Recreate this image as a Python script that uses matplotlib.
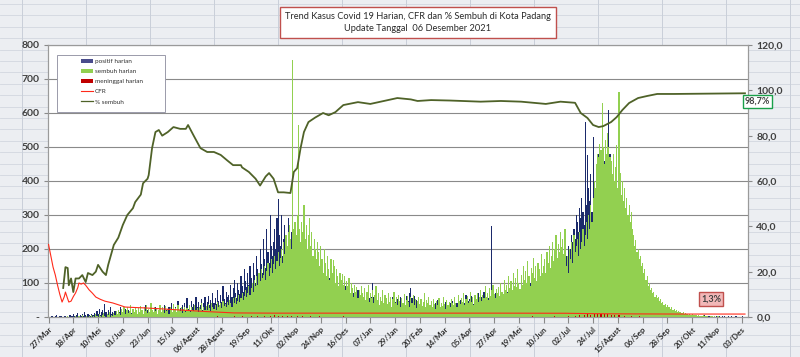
import matplotlib
matplotlib.use('Agg')
import matplotlib.pyplot as plt
from matplotlib.patches import Patch, Rectangle
from matplotlib.lines import Line2D
import numpy as np

plt.rcParams['font.family'] = ['Lato', 'DejaVu Sans']

# ---------------- data (daily, starting 27 Mar 2020) ----------------
positif = [
    2, 0, 1, 3, 0, 0, 2, 5, 1, 0, 3, 2, 0, 1, 4, 2, 0, 3, 1, 6,
    4, 2, 8, 3, 0, 5, 12, 3, 6, 2, 9, 4, 14, 6, 3, 8, 5, 2, 10, 7,
    6, 12, 4, 18, 9, 25, 7, 14, 22, 10, 38, 16, 8, 20, 12, 28, 9, 15, 6, 18,
    12, 8, 22, 14, 30, 10, 6, 17, 25, 9, 14, 20, 7, 32, 11, 16, 8, 24, 13, 10,
    18, 7, 26, 12, 9, 15, 34, 8, 20, 11, 6, 14, 22, 9, 17, 30, 12, 8, 19, 10,
    15, 24, 9, 36, 13, 20, 11, 28, 16, 42, 14, 22, 18, 30, 12, 46, 20, 26, 15, 34,
    22, 40, 18, 55, 25, 32, 20, 48, 28, 38, 24, 60, 30, 44, 26, 35, 52, 22, 40, 58,
    30, 45, 62, 35, 50, 28, 70, 42, 55, 38, 80, 48, 36, 65, 44, 90, 52, 40, 75, 58,
    66, 48, 95, 60, 85, 110, 72, 55, 100, 80, 68, 120, 90, 75, 140, 105, 88, 130, 95, 150,
    115, 90, 160, 125, 100, 180, 140, 110, 200, 155, 130, 230, 170, 145, 260, 190, 160, 300, 210, 180,
    220, 260, 200, 290, 347, 240, 210, 300, 180, 230, 270, 160, 210, 290, 140, 190, 250, 130, 170, 210,
    150, 190, 120, 170, 140, 110, 160, 130, 100, 150, 120, 90, 140, 110, 130, 95, 120, 85, 115, 100,
    90, 130, 80, 110, 95, 75, 120, 85, 100, 70, 115, 90, 103, 105, 80, 95, 60, 88, 72, 100,
    70, 55, 85, 62, 90, 50, 75, 68, 45, 80, 58, 72, 40, 65, 55, 78, 48, 60, 52, 70,
    45, 62, 50, 38, 70, 55, 42, 60, 100, 58, 48, 66, 40, 52, 30, 55, 44, 62, 36, 50,
    42, 30, 55, 38, 48, 26, 60, 35, 44, 28, 52, 40, 33, 58, 45, 30, 50, 36, 62, 40,
    48, 70, 85, 55, 40, 62, 35, 50, 45, 60, 38, 52, 30, 45, 55, 28, 42, 35, 50, 32,
    38, 28, 45, 32, 40, 25, 50, 35, 30, 42, 28, 38, 22, 45, 30, 36, 26, 40, 32, 48,
    35, 55, 30, 42, 60, 38, 50, 45, 32, 58, 40, 65, 35, 48, 52, 30, 62, 44, 38, 55,
    48, 40, 70, 52, 45, 60, 38, 75, 50, 42, 65, 55, 80, 48, 268, 60, 52, 70, 45, 62,
    55, 48, 72, 60, 42, 68, 50, 58, 75, 45, 62, 52, 80, 48, 66, 55, 70, 44, 60, 78,
    65, 52, 88, 70, 58, 95, 62, 75, 100, 68, 85, 72, 110, 60, 90, 78, 120, 85, 70, 105,
    95, 80, 130, 110, 90, 140, 105, 125, 150, 115, 100, 160, 135, 120, 175, 145, 130, 190, 160, 140,
    180, 150, 210, 170, 200, 240, 220, 260, 230, 300, 280, 250, 320, 290, 350, 310, 270, 575, 330, 476,
    380, 340, 420, 310, 530, 400, 360, 450, 390, 480, 430, 370, 500, 410, 460, 520, 440, 390, 609, 480,
    420, 360, 450, 330, 390, 300, 350, 280, 320, 250, 300, 230, 270, 210, 240, 190, 220, 170, 200, 150,
    180, 140, 160, 120, 150, 110, 130, 95, 120, 85, 110, 80, 95, 70, 88, 60, 75, 55, 68, 50,
    60, 45, 52, 40, 48, 35, 42, 30, 38, 26, 34, 22, 30, 20, 26, 18, 22, 15, 20, 12,
    16, 10, 14, 8, 12, 7, 10, 6, 9, 5, 8, 4, 7, 3, 6, 4, 5, 3, 4, 2,
    4, 3, 2, 5, 1, 3, 2, 4, 1, 2, 3, 1, 2, 0, 3, 1, 2, 1, 0, 2,
    1, 2, 0, 1, 3, 0, 1, 2, 0, 1, 0, 2, 1, 0, 1, 1, 0, 2, 1, 0,
]

sembuh = [
    0, 0, 0, 0, 0, 0, 0, 0, 0, 0, 0, 0, 0, 1, 0, 0, 0, 2, 0, 0,
    0, 1, 0, 0, 3, 0, 0, 2, 0, 0, 5, 0, 1, 0, 4, 0, 2, 0, 6, 0,
    3, 0, 8, 2, 0, 10, 4, 0, 6, 12, 3, 0, 9, 5, 14, 0, 7, 3, 11, 6,
    18, 8, 22, 12, 5, 25, 15, 30, 10, 20, 28, 12, 18, 35, 8, 24, 14, 30, 20, 10,
    26, 15, 32, 20, 10, 28, 18, 35, 12, 24, 16, 40, 22, 14, 30, 18, 25, 10, 20, 36,
    15, 28, 20, 12, 32, 18, 24, 10, 30, 22, 16, 38, 20, 26, 14, 34, 22, 18, 28, 12,
    24, 30, 16, 26, 20, 36, 14, 28, 22, 18, 34, 20, 26, 16, 30, 24, 40, 18, 28, 22,
    32, 20, 38, 26, 18, 42, 30, 24, 36, 22, 45, 28, 34, 40, 26, 48, 32, 38, 30, 44,
    36, 50, 40, 30, 55, 42, 60, 38, 48, 65, 45, 55, 70, 50, 62, 80, 58, 72, 90, 66,
    85, 100, 75, 110, 90, 120, 95, 130, 105, 140, 115, 125, 150, 110, 135, 160, 120, 145, 170, 130,
    155, 180, 140, 165, 190, 150, 175, 200, 160, 220, 185, 240, 210, 250, 270, 230, 200, 756, 260, 280,
    240, 300, 565, 260, 220, 280, 250, 330, 230, 270, 200, 240, 290, 210, 250, 180, 230, 200, 170, 220,
    190, 150, 210, 170, 130, 200, 160, 120, 180, 140, 110, 170, 130, 168, 150, 100, 140, 120, 90, 130,
    110, 126, 95, 120, 80, 105, 90, 115, 70, 100, 85, 60, 95, 75, 88, 55, 80, 65, 92, 70,
    60, 85, 50, 75, 95, 45, 70, 55, 80, 40, 65, 90, 50, 72, 35, 60, 48, 78, 42, 66,
    55, 38, 70, 45, 60, 30, 52, 75, 40, 58, 34, 64, 46, 28, 56, 42, 68, 36, 50, 62,
    44, 30, 58, 40, 66, 35, 52, 26, 48, 60, 38, 54, 32, 45, 70, 28, 50, 40, 58, 35,
    46, 30, 52, 38, 25, 48, 35, 55, 28, 42, 32, 60, 38, 24, 50, 34, 44, 28, 52, 40,
    36, 58, 42, 30, 66, 48, 38, 55, 44, 70, 35, 52, 62, 40, 48, 75, 45, 58, 36, 64,
    52, 70, 44, 60, 80, 48, 66, 55, 90, 58, 72, 50, 85, 62, 78, 95, 68, 55, 82, 70,
    88, 62, 100, 75, 68, 110, 80, 95, 70, 120, 85, 105, 78, 130, 92, 115, 88, 140, 100, 82,
    125, 95, 150, 110, 135, 100, 165, 120, 90, 145, 130, 175, 115, 150, 105, 160, 140, 120, 185, 130,
    150, 170, 130, 190, 160, 210, 145, 180, 220, 165, 200, 240, 175, 215, 190, 250, 205, 230, 185, 260,
    150, 180, 130, 200, 170, 220, 160, 240, 190, 210, 230, 180, 250, 200, 220, 260, 210, 240, 280, 230,
    300, 260, 330, 280, 350, 400, 380, 450, 480, 470, 510, 490, 630, 500, 450, 520, 480, 540, 500, 470,
    460, 420, 480, 400, 440, 506, 380, 662, 423, 360, 400, 340, 380, 320, 350, 300, 330, 280, 310, 260,
    240, 210, 226, 190, 200, 170, 180, 150, 160, 130, 140, 110, 120, 90, 100, 80, 85, 70, 75, 60,
    65, 55, 60, 48, 52, 40, 45, 35, 38, 30, 34, 28, 30, 24, 28, 22, 25, 18, 20, 15,
    18, 14, 16, 12, 14, 10, 12, 8, 10, 7, 9, 6, 8, 5, 7, 5, 6, 4, 5, 3,
    4, 3, 5, 2, 4, 2, 3, 1, 3, 2, 2, 1, 2, 1, 1, 2, 1, 0, 1, 1,
    1, 0, 1, 1, 0, 1, 0, 0, 1, 0, 0, 1, 0, 0, 0, 1, 0, 0, 0, 0,
]

death_days = [0, 6, 12, 18, 27, 33, 50, 75, 110, 135,
              150, 165, 172, 180, 186, 192, 197, 201, 204, 208,
              212, 216, 221, 226, 233, 241, 250, 262, 275, 290,
              320, 360, 400, 430, 450, 462, 468, 472, 476, 479,
              482, 485, 488, 491, 494, 497, 500, 503, 507, 512,
              518, 525, 535]
death_counts = [1, 1, 1, 1, 1, 1, 1, 1, 1, 1,
                2, 2, 3, 2, 3, 4, 3, 5, 4, 3,
                4, 3, 2, 3, 2, 2, 1, 2, 1, 1,
                1, 1, 1, 2, 2, 3, 4, 5, 6, 8,
                7, 9, 8, 10, 9, 8, 7, 6, 5, 4,
                3, 2, 1]

cfr_days = [0, 2, 4, 6, 8, 10, 12, 14, 15, 17,
            18, 20, 22, 24, 26, 27, 29, 31, 33, 36,
            39, 42, 46, 50, 57, 62, 68, 76, 86, 100,
            120, 140, 165, 200, 250, 300, 350, 400, 460, 480,
            500, 530, 560, 619]
cfr_vals = [32, 27, 22, 18.5, 14, 10, 6.6, 9, 11, 8,
            6.6, 7, 9, 10.6, 13, 15, 14.5, 15, 14, 12,
            10.5, 8.8, 7.8, 7.0, 6.2, 5.4, 4.4, 4.2, 4.0, 3.6,
            3.0, 2.4, 1.8, 1.7, 1.7, 1.7, 1.7, 1.7, 1.65, 1.5,
            1.4, 1.35, 1.3, 1.3]

pct_days = [13, 15, 17, 18, 20, 22, 24, 27, 30, 33,
            35, 39, 42, 44, 48, 51, 53, 58, 62, 66,
            70, 75, 77, 82, 84, 88, 89, 92, 95, 98,
            101, 106, 111, 117, 122, 124, 129, 135, 141, 147,
            153, 159, 164, 171, 172, 178, 184, 188, 193, 196,
            200, 204, 209, 215, 218, 221, 224, 227, 231, 237,
            244, 249, 255, 257, 262, 275, 286, 298, 310, 322,
            328, 340, 357, 384, 402, 420, 442, 455, 468, 473,
            479, 484, 489, 493, 500, 505, 510, 516, 524, 532,
            541, 556, 619]
pct_vals = [12.8, 22, 21.6, 14, 17, 11, 17, 17, 18.5, 15.4,
            19.4, 18.5, 20, 23, 20, 18.5, 23, 31.8, 35, 40.6,
            45, 48, 50.7, 54, 59, 61, 62.6, 74.5, 81.6, 82.5,
            80, 81.6, 83.8, 83, 83, 84.7, 80, 74.5, 72.8, 72.8,
            71.5, 69, 67, 67, 66, 64, 61, 58, 62, 63.5,
            61, 55, 55, 54.7, 64, 65.7, 74.5, 81.6, 86, 88,
            90, 89, 90.4, 91.3, 93.5, 94.8, 94, 95.3, 96.6, 96,
            95.3, 95.7, 95.5, 95, 95.3, 95, 94, 95, 94.5, 90,
            87.8, 84.7, 83.8, 84.2, 86, 88.2, 91.3, 94.4, 96.6, 97.5,
            98.4, 98.4, 98.7]

xtick_labels = ['27/Mar', '18/Apr', '10/Mei', '01/Jun', '23/Jun', '15/Jul', '06/Agust',
                '28/Agust', '19/Sep', '11/Okt', '02/Nop', '24/Nop', '16/Des', '07/Jan',
                '29/Jan', '20/Feb', '14/Mar', '05/Apr', '27/Apr', '19/Mei', '10/Jun',
                '02/Jul', '24/Jul', '15/Agust', '06/Sep', '28/Sep', '20/Okt', '11/Nop',
                '03/Des']
tick_step = 22

title_text = "Trend Kasus Covid 19 Harian, CFR dan % Sembuh di Kota Padang\nUpdate Tanggal  06 Desember 2021"

# ---------------- figure ----------------
W, H = 800, 357
fig = plt.figure(figsize=(W / 100, H / 100), dpi=100)
fig.patch.set_facecolor('#eceef2')

# spreadsheet-like background grid
for yy in np.arange(4, H, 11.4):
    fig.add_artist(Line2D([0, 1], [1 - yy / H] * 2, color='#d2d7df', lw=0.6, zorder=0))
for xx in range(22, W, 64):
    fig.add_artist(Line2D([xx / W] * 2, [0, 1], color='#c9cfd9', lw=0.7, zorder=0))

ax = fig.add_axes([48 / W, 1 - 317 / H, 700 / W, 272 / H])
ax.set_facecolor('white')

days = np.arange(len(positif))
navy = '#1b2a6b'
green = '#92d050'
ax.bar(days, positif, width=1.0, color=navy, linewidth=0, zorder=2)
ax.bar(days, sembuh, width=1.0, color=green, linewidth=0, zorder=3)
ax.bar(death_days, death_counts, width=1.0, color='#c00000', linewidth=0, zorder=4)

ax.set_xlim(-0.5, 621.7)
ax.set_ylim(0, 800)
yt = np.arange(0, 801, 100)
ax.set_yticks(yt)
ax.set_yticklabels(['-'] + [str(v) for v in yt[1:]], fontsize=7.5, color='#404040', fontweight='bold')
ax.yaxis.grid(True, color='#8a8a8a', lw=0.8, zorder=0)
ax.set_axisbelow(True)

xt = np.arange(0, len(xtick_labels) * tick_step, tick_step)
ax.set_xticks(xt)
ax.set_xticklabels(xtick_labels, rotation=45, ha='right', rotation_mode='anchor',
                   fontsize=5.8, color='#303030', fontweight='bold')
ax.tick_params(axis='x', length=4, color='#8a8a8a', pad=2)
ax.tick_params(axis='y', length=3, color='#8a8a8a', pad=3)
for s in ax.spines.values():
    s.set_color('#9a9a9a')
    s.set_linewidth(0.8)

ax2 = ax.twinx()
ax2.set_ylim(0, 120)
rt = np.arange(0, 121, 20)
ax2.set_yticks(rt)
ax2.set_yticklabels([f"{v:.1f}".replace('.', ',') for v in rt], fontsize=7.5,
                    color='#404040', fontweight='bold')
ax2.tick_params(axis='y', length=3, color='#8a8a8a', pad=3)
for s in ax2.spines.values():
    s.set_color('#9a9a9a')
    s.set_linewidth(0.8)

ax2.plot(cfr_days, cfr_vals, color='#ff2a1a', lw=0.8, zorder=5)
ax2.plot(pct_days, pct_vals, color='#4f6228', lw=1.3, zorder=6)

# legend: frame drawn separately, entries indented like the Excel legend
ax2.add_patch(Rectangle((9 / 700, 1 - 67 / 272), 108 / 700, 57 / 272, transform=ax2.transAxes,
                        fc='white', ec='#9a9aaa', lw=0.7, zorder=7))
handles = [Patch(facecolor='#4a4c8c', edgecolor='none'),
           Patch(facecolor=green, edgecolor='none'),
           Patch(facecolor='#c00000', edgecolor='none'),
           Line2D([0], [0], color='#ff2a1a', lw=0.8),
           Line2D([0], [0], color='#4f6228', lw=0.9)]
labels = ['positif harian', 'sembuh harian', 'meninggal harian', 'CFR', '% sembuh']
leg = ax2.legend(handles, labels, loc='upper left', bbox_to_anchor=(33 / 700, 1 - 14 / 272),
                 fontsize=4.6, frameon=False,
                 handlelength=1.9, handleheight=0.6, handletextpad=0.3, labelspacing=0.75,
                 borderpad=0, borderaxespad=0)
leg.set_zorder(8)
for t in leg.get_texts():
    t.set_color('#303030')

# title
fig.text(0.5225, 0.937, title_text, ha='center', va='center', fontsize=6.7,
         color='#2a2a2a', linespacing=1.4,
         bbox=dict(boxstyle='square,pad=0.5', fc='white', ec='#c0504d', lw=1.0))

# end labels
ax2.annotate(f"{pct_vals[-1]:.1f}%".replace('.', ','), xy=(pct_days[-1], pct_vals[-1]),
             xytext=(9, -6), textcoords='offset points', ha='center', va='center',
             fontsize=6.5, fontweight='bold', color='#404040', annotation_clip=False,
             bbox=dict(boxstyle='square,pad=0.25', fc='white', ec='#1aa04a', lw=1.0), zorder=10)
ax2.annotate(f"{cfr_vals[-1]:.1f}%".replace('.', ','), xy=(cfr_days[-1], cfr_vals[-1]),
             xytext=(-24.5, 11), textcoords='offset points', ha='center', va='center',
             fontsize=6.5, fontweight='bold', color='#404040', annotation_clip=False,
             bbox=dict(boxstyle='square,pad=0.25', fc='#f2b8b8', ec='#c0504d', lw=1.0), zorder=10)

fig.savefig('out.png', dpi=100, facecolor=fig.get_facecolor())
